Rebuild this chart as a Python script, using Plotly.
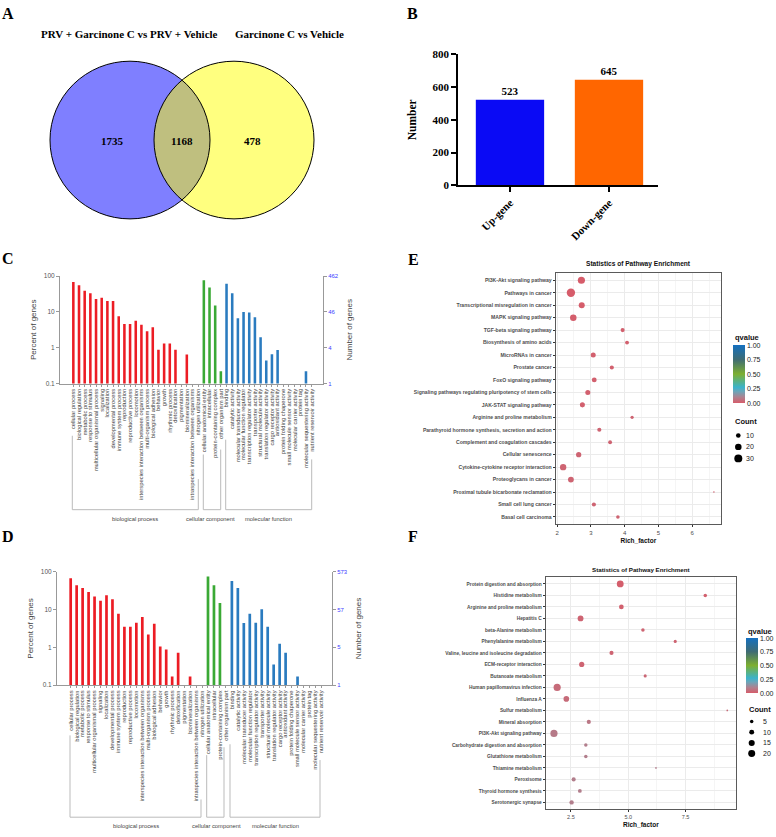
import plotly.graph_objects as go
import numpy as np

W, H = 776, 837
def px(x): return x / W
def py(y): return 1 - y / H

SERIF = "Liberation Serif"
SANS = "Liberation Sans"

# ---------------- Panel A : Venn ----------------
venn_sets = ["PRV + Garcinone C vs PRV + Vehicle", "Garcinone C vs Vehicle"]
venn_counts = [1735, 1168, 478]          # left only, shared, right only

# ---------------- Panel B : DEG numbers ----------------
deg_labels = ["Up-gene", "Down-gene"]
deg_counts = [523, 645]
deg_colors = ["#0A0AF5", "#FF6600"]

# ---------------- Panels C / D : GO classification ----------------
go_terms = [
    "cellular process", "biological regulation", "metabolic process", "response to stimulus",
    "multicellular organismal process", "signaling", "localization", "developmental process",
    "immune system process", "reproduction", "reproductive process", "locomotion",
    "interspecies interaction between organisms", "multi-organism process", "biological adhesion",
    "behavior", "growth", "rhythmic process", "detoxification", "pigmentation", "biomineralization",
    "intraspecies interaction between organisms", "nitrogen utilization",
    "cellular anatomical entity", "intracellular", "protein-containing complex", "other organism part",
    "binding", "catalytic activity", "molecular transducer activity", "molecular function regulator",
    "transcription regulator activity", "transporter activity", "structural molecule activity",
    "translation regulator activity", "cargo receptor activity", "antioxidant activity",
    "protein folding chaperone", "small molecule sensor activity", "molecular carrier activity",
    "protein tag", "molecular sequestering activity", "nutrient reservoir activity",
]
go_group = (["biological process"] * 23 + ["cellular component"] * 4 + ["molecular function"] * 16)
go_group_names = ["biological process", "cellular component", "molecular function"]
go_group_colors = {"biological process": "#EC1C24", "cellular component": "#3AA935",
                   "molecular function": "#2A7BBF"}

C_percent = [68, 55, 39, 33, 23, 25, 20, 20, 7.6, 4.6, 4.6, 5.7, 4.4, 2.9, 3.7,
             0.87, 1.3, 1.3, 0.87, None, 0.65, None, None,
             76, 48, 15, 0.22,
             61, 33, 6.6, 10, 9.6, 7.1, 1.96, 0.44, 0.66, 0.86,
             None, None, None, None, 0.22, None]
D_percent = [67, 44, 37, 29, 22, 17, 24, 18.6, 7.8, 3.5, 3.5, 4.5, 6.4, 2.2, 4.2,
             1.05, 0.88, 0.17, 0.72, None, 0.17, None, None,
             75, 44, 14.8, None,
             57, 37, 4.4, 7.8, 4.5, 10.2, 3.5, 0.35, 1.25, 0.72,
             None, 0.17, None, None, None, None]
pct_ticks = [0.1, 1, 10, 100]
pct_ticktext = ["0.1", "1", "10", "100"]
C_right_ticks = ["1", "4", "46", "462"]
D_right_ticks = ["1", "5", "57", "573"]

# ---------------- Panel E : KEGG enrichment ----------------
E_pathway = [
    "PI3K-Akt signaling pathway", "Pathways in cancer", "Transcriptional misregulation in cancer",
    "MAPK signaling pathway", "TGF-beta signaling pathway", "Biosynthesis of amino acids",
    "MicroRNAs in cancer", "Prostate cancer", "FoxO signaling pathway",
    "Signaling pathways regulating pluripotency of stem cells", "JAK-STAT signaling pathway",
    "Arginine and proline metabolism", "Parathyroid hormone synthesis, secretion and action",
    "Complement and coagulation cascades", "Cellular senescence",
    "Cytokine-cytokine receptor interaction", "Proteoglycans in cancer",
    "Proximal tubule bicarbonate reclamation", "Small cell lung cancer", "Basal cell carcinoma",
]
E_rich = [2.72, 2.41, 2.73, 2.48, 3.94, 4.07, 3.07, 3.62, 3.10, 2.91, 2.75, 4.22, 3.25, 3.57,
          2.64, 2.18, 2.41, 6.64, 3.09, 3.80]
E_count = [24, 33, 17, 20, 8, 7, 12, 8, 11, 12, 12, 5, 8, 7, 13, 19, 16, 1.2, 8, 6]
E_q = [0.001, 0.001, 0.003, 0.004, 0.01, 0.01, 0.01, 0.01, 0.01, 0.01, 0.01, 0.02, 0.02, 0.02,
       0.02, 0.02, 0.02, 0.02, 0.02, 0.02]

# ---------------- Panel F : KEGG enrichment ----------------
F_pathway = [
    "Protein digestion and absorption", "Histidine metabolism", "Arginine and proline metabolism",
    "Hepatitis C", "beta-Alanine metabolism", "Phenylalanine metabolism",
    "Valine, leucine and isoleucine degradation", "ECM-receptor interaction", "Butanoate metabolism",
    "Human papillomavirus infection", "Influenza A", "Sulfur metabolism", "Mineral absorption",
    "PI3K-Akt signaling pathway", "Carbohydrate digestion and absorption", "Glutathione metabolism",
    "Thiamine metabolism", "Peroxisome", "Thyroid hormone synthesis", "Serotonergic synapse",
]
F_rich = [4.65, 8.36, 4.70, 2.92, 5.64, 7.05, 4.27, 2.97, 5.74, 1.90, 2.30, 9.32, 3.28, 1.76,
          3.15, 3.15, 6.21, 2.62, 2.89, 2.53]
F_count = [19, 5, 9, 14, 5, 4, 7, 11, 4, 21, 13, 1.2, 7, 21, 5, 5, 1.2, 7, 6, 8]
F_q = [0.005, 0.01, 0.01, 0.02, 0.02, 0.02, 0.02, 0.02, 0.03, 0.04, 0.04, 0.04, 0.07, 0.08,
       0.09, 0.09, 0.09, 0.09, 0.09, 0.09]

count_legend_E = [10, 20, 30]
count_legend_F = [5, 10, 15, 20]
q_ticks = [0, 0.25, 0.5, 0.75, 1.0]
q_ticktext = ["0.00", "0.25", "0.50", "0.75", "1.00"]

q_colorscale = [[0.0, "#D65C6A"], [0.1, "#AE8290"], [0.2, "#6BA6BA"], [0.27, "#3BB3CB"],
                [0.5, "#7DAF30"], [0.75, "#3F6C73"], [1.0, "#1470C0"]]

kE = 1.46
kF = 1.565

fig = go.Figure()

# ---- B bars
fig.add_trace(go.Bar(
    x=deg_labels, y=deg_counts, width=0.69,
    marker=dict(color=deg_colors, line_width=0),
    text=[str(v) for v in deg_counts], textposition="outside",
    textfont=dict(family=SERIF, size=11, color="black", weight="bold"),
    cliponaxis=False, xaxis="x", yaxis="y", showlegend=False, hoverinfo="skip"))

# ---- C and D bars
go_colors = [go_group_colors[g] for g in go_group]
for xa, ya, yr, vals in [("x2", "y2", "y3", C_percent), ("x3", "y4", "y5", D_percent)]:
    fig.add_trace(go.Bar(x=go_terms, y=vals, width=0.45,
                         marker=dict(color=go_colors, line_width=0),
                         xaxis=xa, yaxis=ya, showlegend=False, hoverinfo="skip"))
    fig.add_trace(go.Scatter(x=[go_terms[0]], y=[1], mode="markers", marker=dict(opacity=0),
                             xaxis=xa, yaxis=yr, showlegend=False, hoverinfo="skip"))

# ---- E and F bubbles
def bubble(xa, ya, rich, pathway, count, q, k, cb_x, cb_y, cb_len):
    return go.Scatter(
        x=rich, y=pathway, mode="markers", xaxis=xa, yaxis=ya, showlegend=False, hoverinfo="skip",
        marker=dict(size=k * np.sqrt(np.array(count, dtype=float)), sizemode="diameter",
                    color=q, cmin=0, cmax=1, colorscale=q_colorscale, line_width=0, opacity=1,
                    colorbar=dict(x=px(cb_x), xanchor="left", y=py(cb_y), yanchor="middle",
                                  lenmode="pixels", len=cb_len, thickness=12, thicknessmode="pixels",
                                  xpad=0, ypad=0, outlinewidth=0, tickvals=q_ticks, ticktext=q_ticktext,
                                  ticks="", tickfont=dict(family=SANS, size=7, color="#222"))))

fig.add_trace(bubble("x4", "y6", E_rich, E_pathway, E_count, E_q, kE, 732.7, 373.5, 58))
fig.add_trace(bubble("x5", "y7", F_rich, F_pathway, F_count, F_q, kF, 746.0, 669.2, 55))

# ---------------- axes ----------------
gray_txt = "#555555"
go_x = dict(type="category", categoryorder="array", categoryarray=go_terms, tickangle=-90,
            tickmode="array", tickvals=go_terms, ticktext=go_terms,
            tickfont=dict(family=SANS, size=5.8, color="#444"), ticks="outside", ticklen=2,
            tickcolor="#999", showline=True, linecolor="#999", linewidth=1, showgrid=False,
            zeroline=False)
def go_left(dom):
    return dict(type="log", domain=dom, range=[-1, 2], tickvals=pct_ticks, ticktext=pct_ticktext,
                tickfont=dict(family=SANS, size=6.5, color=gray_txt), ticks="outside", ticklen=3,
                tickcolor="#999", showline=True, linecolor="#999", showgrid=False, zeroline=False,
                title=dict(text="Percent of genes", font=dict(family=SANS, size=8, color="#444"),
                           standoff=6))
def go_right(over, anchor, ticktext):
    return dict(type="log", overlaying=over, anchor=anchor, side="right", range=[-1, 2],
                tickvals=pct_ticks, ticktext=ticktext,
                tickfont=dict(family=SANS, size=6, color="#4040FF"), ticks="outside", ticklen=3,
                tickcolor="#999", showline=True, linecolor="#999", showgrid=False, zeroline=False,
                title=dict(text="Number of genes", font=dict(family=SANS, size=8, color="#444"),
                           standoff=8))

C_dom_x = [px(60), px(323)]
D_dom_x = [px(57), px(332)]

def enrich_y(dom, cats, fs):
    n = len(cats)
    return dict(domain=dom, type="category", categoryorder="array", categoryarray=cats,
                range=[n - 0.4, -0.6], showgrid=True, gridcolor="#EBEBEB", gridwidth=0.8,
                ticks="outside", ticklen=2, tickcolor="#333", showline=True, mirror=True,
                linecolor="#5A5A5A", linewidth=1,
                tickfont=dict(family=SANS, size=fs, color="#4D4D4D", weight="bold"), zeroline=False)
def enrich_x(dom, rng, tick0, dtick, minor, fmt, fs):
    return dict(domain=dom, range=rng, tick0=tick0, dtick=dtick, tickformat=fmt,
                showgrid=True, gridcolor="#EBEBEB", gridwidth=0.8,
                minor=dict(dtick=minor, showgrid=True, gridcolor="#F5F5F5", gridwidth=0.6),
                ticks="outside", ticklen=2, tickcolor="#333", showline=True, mirror=True,
                linecolor="#5A5A5A", linewidth=1, zeroline=False,
                tickfont=dict(family=SANS, size=fs, color="#4D4D4D"),
                title=dict(text="Rich_factor", font=dict(family=SANS, size=6.5, color="#111",
                                                          weight="bold"), standoff=3))

fig.update_layout(
    width=W, height=H, margin=dict(l=0, r=0, t=0, b=0), showlegend=False,
    paper_bgcolor="white", plot_bgcolor="rgba(0,0,0,0)",
    # B
    xaxis=dict(domain=[px(458), px(658)], type="category", range=[-0.525, 1.495], anchor="y",
               tickangle=-45, ticks="outside", ticklen=5, tickwidth=1.5, tickcolor="black",
               showline=True, linecolor="black", linewidth=1.5, showgrid=False,
               tickfont=dict(family=SERIF, size=11, color="black", weight="bold")),
    yaxis=dict(domain=[py(182), py(49)], range=[0, 800], dtick=200, anchor="x",
               ticks="outside", ticklen=5, tickwidth=1.5, tickcolor="black",
               showline=True, linecolor="black", linewidth=1.5, showgrid=False, zeroline=False,
               tickfont=dict(family=SERIF, size=11, color="black", weight="bold"),
               title=dict(text="Number", font=dict(family=SERIF, size=11.5, color="black",
                                                   weight="bold"), standoff=14)),
    # C
    xaxis2=dict(go_x, domain=C_dom_x, range=[-2.35, 44.0], anchor="y2"),
    yaxis2=dict(go_left([py(383), py(274)]), anchor="x2"),
    yaxis3=go_right("y2", "x2", C_right_ticks),
    # D
    xaxis3=dict(go_x, domain=D_dom_x, range=[-2.29, 43.77], anchor="y4"),
    yaxis4=dict(go_left([py(689), py(574)]), anchor="x3"),
    yaxis5=go_right("y4", "x3", D_right_ticks),
    # E
    xaxis4=dict(enrich_x([px(555.7), px(721)], [1.96, 6.85], 2, 1, 0.5, "d", 6), anchor="y6"),
    yaxis6=dict(enrich_y([py(526), py(270.7)], E_pathway, 5.1), anchor="x4"),
    # F
    xaxis5=dict(enrich_x([px(545.7), px(736)], [1.40, 9.70], 2.5, 2.5, 1.25, ".1f", 5.5),
                anchor="y7"),
    yaxis7=dict(enrich_y([py(815), py(579.3)], F_pathway, 4.8), anchor="x5"),
)

shapes = []
annos = []

def ann(x, y, text, size, family=SANS, color="black", bold=False, xanchor="center"):
    annos.append(dict(x=px(x), y=py(y), xref="paper", yref="paper", text=text, showarrow=False,
                      xanchor=xanchor, yanchor="middle",
                      font=dict(family=family, size=size, color=color,
                                weight="bold" if bold else "normal")))

# ---- panel letters
for letter, (x, y) in zip("ABCDEF", [(7.5, 8), (412.5, 7.5), (8, 256.5), (8, 538),
                                    (413, 257.5), (413, 538)]):
    ann(x, y, letter, 16, SERIF, bold=True)

# ---- Venn
venn_circles = [(130, 136, 80, "rgba(0,0,255,0.5)"), (234, 136, 80, "rgba(255,255,0,0.5)")]
for cx, cy, r, col in venn_circles:
    shapes.append(dict(type="circle", xref="paper", yref="paper", x0=px(cx - r), x1=px(cx + r),
                       y0=py(cy + r), y1=py(cy - r), fillcolor=col, line=dict(width=0)))
for cx, cy, r, col in venn_circles:
    shapes.append(dict(type="circle", xref="paper", yref="paper", x0=px(cx - r), x1=px(cx + r),
                       y0=py(cy + r), y1=py(cy - r), fillcolor="rgba(0,0,0,0)",
                       line=dict(color="black", width=1)))
ann(129, 28, venn_sets[0], 11, SERIF, bold=True)
ann(289, 28, venn_sets[1], 11, SERIF, bold=True)
for xpos, v in zip([112.7, 182.3, 252.3], venn_counts):
    ann(xpos, 137, str(v), 11, SERIF, bold=True)

# ---- GO brackets and group labels
def bracket(xl, tl, xr, tr, bottom):
    shapes.append(dict(type="path", xref="paper", yref="paper",
                       path=f"M {px(xl)},{py(tl)} L {px(xl)},{py(bottom)} L {px(xr)},{py(bottom)} L {px(xr)},{py(tr)}",
                       line=dict(color="#BBBBBB", width=1)))
for b in [(72.3, 436, 198.3, 480), (203.3, 455, 220.7, 450), (225.7, 440, 311.7, 460)]:
    bracket(*b, 511)
for b in [(70, 740, 201, 805), (206.7, 760, 224, 752), (230, 749, 320, 765)]:
    bracket(*b, 823)
for name, x in zip(go_group_names, [135, 211, 268]):
    ann(x, 520, name, 5.8, SANS, "#444")
for name, x in zip(go_group_names, [136, 216, 275]):
    ann(x, 832, name, 5.8, SANS, "#444")

# ---- E / F titles and legends
ann(638, 262, "Statistics of Pathway Enrichment", 6.6, SANS, "#111", bold=True)
ann(640.7, 571.7, "Statistics of Pathway Enrichment", 6.2, SANS, "#111", bold=True)
ann(732.7, 336, "qvalue", 7.5, SANS, "#111", bold=True, xanchor="left")
ann(746.0, 634.7, "qvalue", 7.5, SANS, "#111", bold=True, xanchor="left")
ann(732.7, 421.7, "Count", 7.5, SANS, "#111", bold=True, xanchor="left")
ann(747.3, 713.3, "Count", 7.5, SANS, "#111", bold=True, xanchor="left")

def count_legend(values, k, dot_x, label_x, ys):
    for v, y in zip(values, ys):
        d = k * np.sqrt(v)
        shapes.append(dict(type="circle", xref="paper", yref="paper",
                           x0=px(dot_x - d / 2), x1=px(dot_x + d / 2),
                           y0=py(y + d / 2), y1=py(y - d / 2), fillcolor="black",
                           line=dict(width=0)))
        ann(label_x, y, str(v), 7, SANS, "#222", xanchor="left")

count_legend(count_legend_E, kE, 738.3, 743.5, [435.7, 447.3, 459.0])
count_legend(count_legend_F, kF, 751.7, 760.5, [726.0, 736.7, 747.7, 758.3])

fig.update_layout(shapes=shapes, annotations=annos)
fig.write_html("out.html")
